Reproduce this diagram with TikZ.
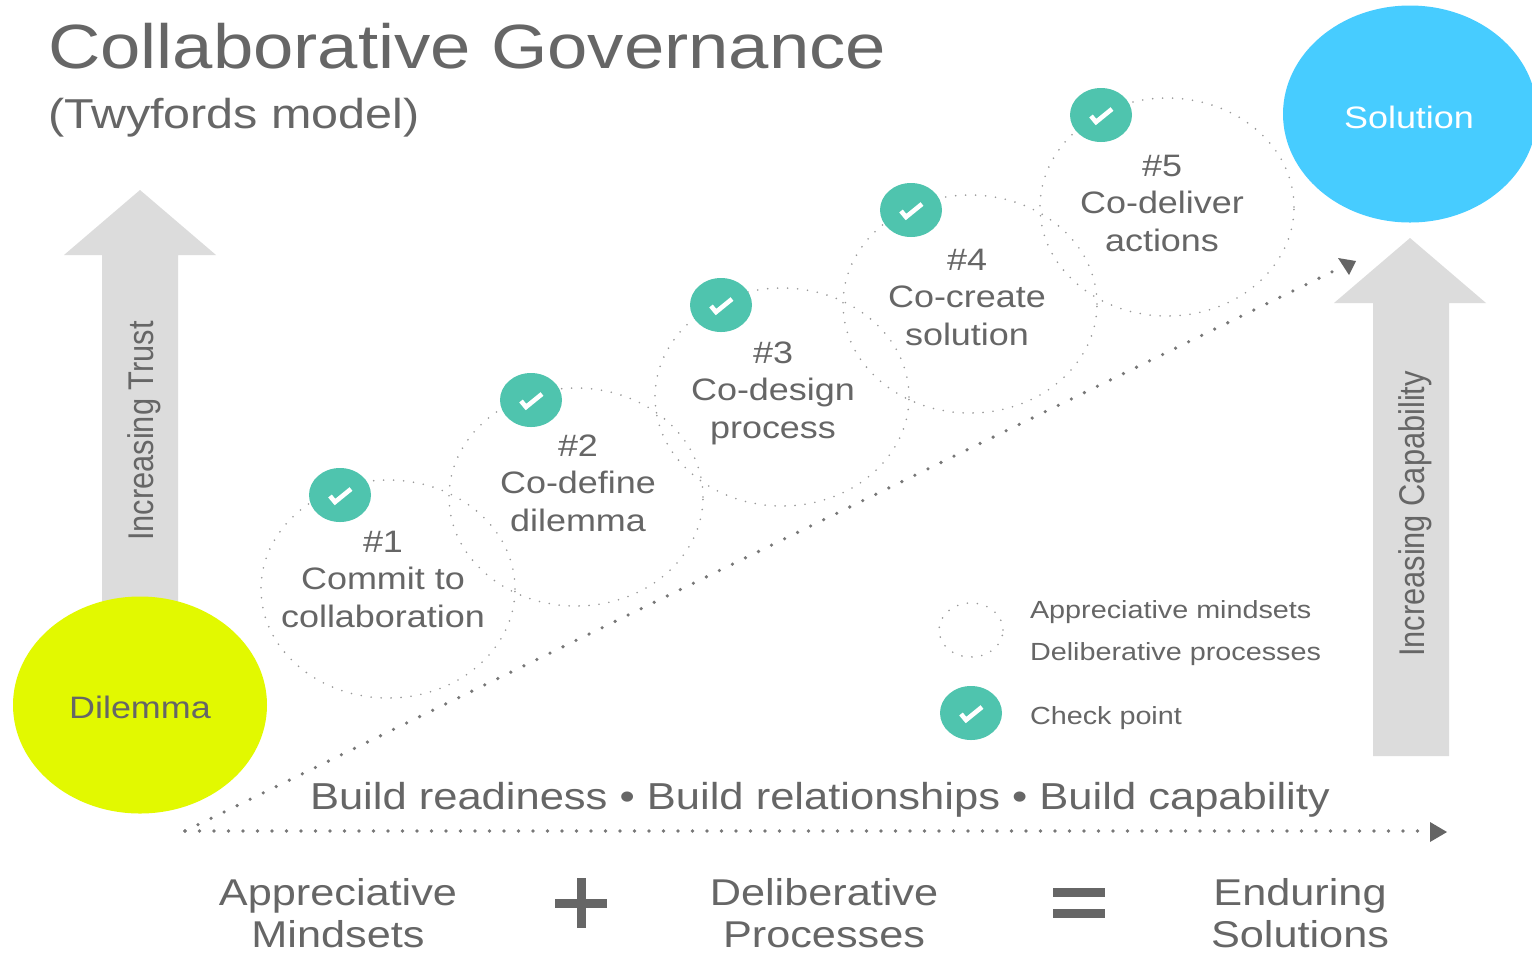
\documentclass[tikz,border=0pt]{standalone}
\usepackage{fontspec}
\setmainfont[FakeStretch=1.16]{Liberation Sans}
\newfontfamily\rotfont{Liberation Sans}
\usetikzlibrary{arrows.meta,shapes.geometric}
\definecolor{txt}{HTML}{666666}
\definecolor{softgrey}{HTML}{DCDCDC}
\definecolor{teal1}{HTML}{4FC4AE}
\definecolor{lime1}{HTML}{E2F900}
\definecolor{sky1}{HTML}{47CCFF}
\definecolor{dotgrey}{HTML}{777777}
\definecolor{ringgrey}{HTML}{999999}
\tikzset{
  x=0.5pt,y=-0.5pt,
  every node/.style={inner sep=0pt,outer sep=0pt,text=txt},
  ringnode/.style={ellipse,draw=ringgrey,line width=0.9pt,line cap=round,dash pattern=on 0pt off 5pt,minimum width=127pt,minimum height=109pt},
  bignode/.style={ellipse,minimum width=127pt,minimum height=108.5pt},
  stepfont/.style={align=center,font=\fontsize{15.5}{18.75}\selectfont},
  bottomfont/.style={align=center,text depth=0pt,font=\fontsize{18.65}{21}\selectfont},
  legendfont/.style={anchor=base west,font=\fontsize{12.4}{15}\selectfont},
  rotlabel/.style={rotate=90,yscale=1.16,font=\rotfont\fontsize{15.4}{18}\selectfont},
  flowline/.style={draw=dotgrey,line width=1.8pt,line cap=round,dash pattern=on 0pt off 7.25pt},
  bigarrow/.style={fill=softgrey,draw=none},
  checkbadge/.style={ellipse,fill=teal1,minimum width=31pt,minimum height=27pt},
  tickmark/.style={draw=white,line width=2.3pt,line cap=butt,line join=miter},
}
\newcommand{\tick}[2]{\draw[tickmark] (#1-10,#2+1) -- (#1-5,#2+7) -- (#1+11,#2-6);}
\begin{document}
\begin{tikzpicture}
\useasboundingbox (0,0) rectangle (1532,955);
\fill[white] (0,0) rectangle (1532,955);
% big arrows
\fill[bigarrow] (140,190) -- (216,255) -- (178,255) -- (178,640) -- (102,640) -- (102,255) -- (64,255) -- cycle;
\fill[bigarrow] (1410,238) -- (1486,303) -- (1449,303) -- (1449,756) -- (1373,756) -- (1373,303) -- (1334,303) -- cycle;
% end points
\node[bignode,fill=lime1] (dilemma) at (140,705) {};
\node[font=\fontsize{15.5}{18}\selectfont] (dilemmat) at (140,707) {Dilemma};
\begin{scope}
\clip (0,0) rectangle (1532,955);
\node[bignode,fill=sky1] (solution) at (1410,114) {};
\end{scope}
\node[font=\fontsize{15.5}{18}\selectfont,text=white] (solutiont) at (1409,117) {Solution};
% title
\node[anchor=base west,font=\fontsize{31.25}{36}\selectfont] (title) at (48,68) {Collaborative Governance};
\node[anchor=base west,font=\fontsize{20.9}{24}\selectfont] (subtitle) at (48,128) {(Twyfords model)};
\node[rotlabel] (trust) at (144,431) {Increasing Trust};
\node[rotlabel] (capab) at (1415,514) {Increasing Capability};
% rings
\node[ringnode] (r1) at (388,589) {};
\node[ringnode] (r2) at (576,497) {};
\node[ringnode] (r3) at (782,397) {};
\node[ringnode] (r4) at (970,304) {};
\node[ringnode] (r5) at (1167,207) {};
% badges
\node[checkbadge] (c1) at (340,495) {}; \tick{340}{495}
\node[checkbadge] (c2) at (531,400) {}; \tick{531}{400}
\node[checkbadge] (c3) at (721,305) {}; \tick{721}{305}
\node[checkbadge] (c4) at (911,210) {}; \tick{911}{210}
\node[checkbadge] (c5) at (1101,115) {}; \tick{1101}{115}
% step text
\node[stepfont] (t1) at (383,579) {\#1\\Commit to\\collaboration};
\node[stepfont] (t2) at (578,483) {\#2\\Co-define\\dilemma};
\node[stepfont] (t3) at (773,393) {\#3\\Co-design\\process};
\node[stepfont] (t4) at (967,297) {\#4\\Co-create\\solution};
\node[stepfont] (t5) at (1162,203) {\#5\\Co-deliver\\actions};
% flows
\coordinate (origin) at (185,831);
\coordinate (flowend) at (1431,831);
\coordinate (diagend) at (1340,268);
\draw[flowline] (origin) -- (flowend);
\draw[flowline] (origin) -- (diagend);
\fill[dotgrey!85!black] (1430,822) -- (1447,832) -- (1430,842) -- cycle;
\fill[dotgrey!85!black] (1338,258) -- (1356,261) -- (1349,275) -- cycle;
\node[anchor=base west,font=\fontsize{18.76}{22}\selectfont] (build) at (310,809) {Build readiness • Build relationships • Build capability};
% legend
\node[ringnode,minimum width=32pt,minimum height=27pt] (lr) at (971,630) {};
\node[checkbadge] (lc) at (971,713) {}; \tick{971}{713}
\node[legendfont] (l1) at (1030,618) {Appreciative mindsets};
\node[legendfont] (l2) at (1030,660) {Deliberative processes};
\node[legendfont] (l3) at (1030,724) {Check point};
% equation
\node[bottomfont] (e1) at (338,913) {Appreciative\\Mindsets};
\node[bottomfont] (e2) at (824,913) {Deliberative\\Processes};
\node[bottomfont] (e3) at (1300,913) {Enduring\\Solutions};
\fill[txt] (555,899) rectangle (607,908);
\fill[txt] (576.5,878) rectangle (585.5,928);
\fill[txt] (1053,888) rectangle (1105,897);
\fill[txt] (1053,909) rectangle (1105,918);
\end{tikzpicture}
\end{document}
